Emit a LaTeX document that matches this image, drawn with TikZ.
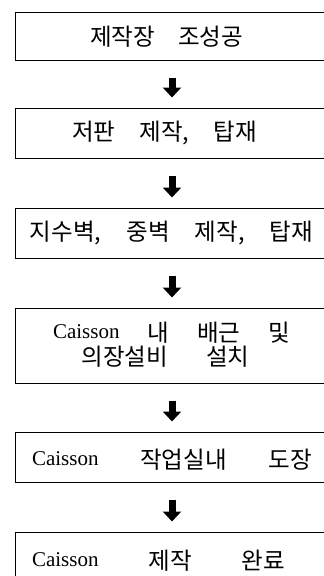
\documentclass[tikz,border=0pt]{standalone}
\usepackage{fontspec}
\setmainfont{Liberation Serif}
\newfontfamily\kr[Scale=1.12]{Noto Sans CJK KR}
\usetikzlibrary{calc,arrows.meta}
\newcommand\spread[2]{\makebox[#1][s]{#2}}
\newcommand\ko[1]{\raisebox{-3pt}{\kr #1}}
\begin{document}
\begin{tikzpicture}[x=1pt,y=-1pt,
  stepbox/.style={draw,line width=1pt,minimum width=311pt,inner sep=0pt},
  steptext/.style={inner sep=0pt,font=\fontsize{21}{24}\selectfont},
  flowarrow/.style={line width=7pt,-{Triangle[width=18pt,length=10pt]}}]
\useasboundingbox (0,0) rectangle (324,576);
\clip (0,0) rectangle (324,576);
\node[stepbox,minimum height=48pt] (b1) at (170.5,36) {};
\node[stepbox,minimum height=50pt] (b2) at (170.5,133) {};
\node[stepbox,minimum height=50pt] (b3) at (170.5,233) {};
\node[stepbox,minimum height=75pt] (b4) at (170.5,345.5) {};
\node[stepbox,minimum height=50pt] (b5) at (170.5,457) {};
\node[stepbox,minimum height=58pt] (b6) at (170.5,561) {};
\node[steptext] (t1) at (166.5,37) {\spread{153pt}{\ko{제작장}\hfill\ko{조성공}}};
\node[steptext] (t2) at (164.5,133) {\spread{185pt}{\ko{저판}\hfill\ko{제작,}\hfill\ko{탑재}}};
\node[steptext] (t3) at (171.5,233) {\spread{283pt}{\ko{지수벽,}\hfill\ko{중벽}\hfill\ko{제작,}\hfill\ko{탑재}}};
\node[steptext] (t4a) at (171.5,333) {\spread{237pt}{Caisson\hfill\ko{내}\hfill\ko{배근}\hfill\ko{및}}};
\node[steptext] (t4b) at (165.5,357) {\spread{168pt}{\ko{의장설비}\hfill\ko{설치}}};
\node[steptext] (t5) at (172,460) {\spread{280pt}{Caisson\hfill\ko{작업실내}\hfill\ko{도장}}};
\node[steptext] (t6) at (158.5,561) {\spread{253pt}{Caisson\hfill\ko{제작}\hfill\ko{완료}}};
\foreach \a/\b in {b1/b2,b2/b3,b3/b4,b4/b5,b5/b6}{
  \draw[flowarrow] ($(\a.south)+(1.5,17)$) -- ($(\b.north)+(1.5,-10)$);
}
\end{tikzpicture}
\end{document}
